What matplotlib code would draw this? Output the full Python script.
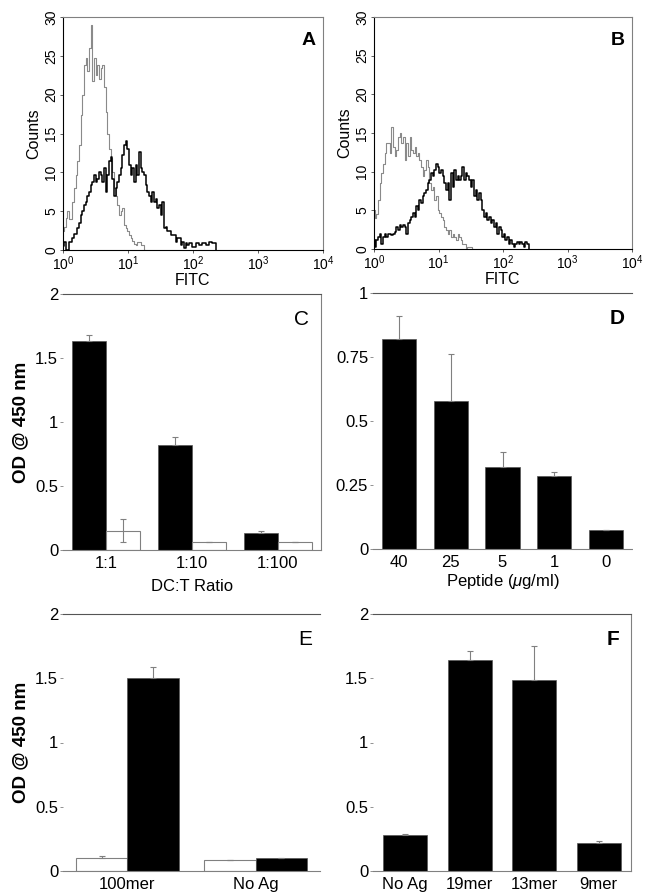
import matplotlib
matplotlib.use("Agg")
import matplotlib.pyplot as plt
import numpy as np

plt.rcParams["font.family"] = ["Liberation Sans", "DejaVu Sans"]
plt.rcParams["mathtext.fontset"] = "custom"
plt.rcParams["mathtext.rm"] = "Liberation Sans"
plt.rcParams["mathtext.it"] = "Liberation Sans:italic"

# FACS histograms: counts per channel, channel step = 1/39 decade from 10^0
LOG_STEP = 1 / 39

hist_a_control = [2.4, 3, 4.1, 5, 4, 4, 6.2, 8, 9.7, 11.5, 13.5, 17.4, 20, 23.8, 24.7,
                  23, 26, 29, 21.7, 24.7, 22.5, 23.8, 22, 23.4, 23.8, 21, 17.8, 15,
                  13, 11.8, 10, 8, 7, 5.8, 4.5, 5, 5.4, 3.2, 2.8, 2.4, 1.9, 1.5, 1.1,
                  0.8, 0.6, 1, 1, 0.6, 0.6, 0]
hist_a_stained = [0.5, 1, 0, 0, 1, 1, 1.5, 2, 2, 2.8, 3.5, 4.5, 5, 5.8, 6.2, 7, 7.5,
                  8.4, 8.8, 9.7, 8.8, 9.2, 10, 9.7, 8.8, 10.5, 7.5, 9.7, 11.4, 12,
                  9.2, 7, 8, 8.8, 9.7, 10.5, 12.2, 13.5, 14, 13, 11, 9.7, 10.5, 8.8,
                  11, 9.7, 12.6, 10.5, 10, 9.7, 8.4, 7.5, 7, 6.2, 7.5, 6.2, 6.6, 5.4,
                  5.8, 4.5, 6.2, 2.8, 3, 2.4, 2.4, 1.9, 1.9, 1.9, 1, 1.5, 1.5, 0.6,
                  1, 0.2, 0.9, 0.6, 0.9, 0.9, 0.4, 0.4, 0.9, 0.9, 0.6, 0.6, 0.9, 0.9,
                  0.6, 0.6, 1, 1, 0.9, 0.9, 0]
hist_b_control = [5, 4, 4.5, 6.3, 8.5, 9.8, 11, 12.4, 13.7, 13.7, 12.4, 15.8, 13.2,
                  12, 12.8, 14.5, 15, 13.7, 14.5, 11.5, 13.7, 12, 14.5, 12.8, 12.4,
                  13.2, 12, 12.4, 11.5, 10.6, 9.4, 10.2, 11.5, 10.6, 8.5, 7.6, 8,
                  6.3, 6.8, 5, 4.6, 4.2, 3.8, 2.9, 2.5, 2, 2.5, 1.6, 2, 1.6, 1.2, 2,
                  1.6, 1.2, 0.7, 0.7, 0.1, 0.3, 0.3, 0.3, 0]
hist_b_stained = [1.2, 0.3, 1.2, 1.6, 2, 0.7, 1.6, 2, 1.6, 2, 2, 1.8, 2, 2.2, 2.9,
                  2.5, 3.1, 2.9, 3.1, 2.9, 2, 3.3, 3.8, 4.2, 4.6, 4.2, 5.5, 5, 6.3,
                  5.9, 6.8, 7.2, 7.6, 8.5, 8.9, 9.8, 9.4, 10.2, 11, 10.6, 9.8, 10.2,
                  9.4, 8.5, 7.6, 8.5, 6.3, 9.8, 8, 10.2, 8.9, 9.4, 8.9, 9.4, 10.6,
                  8.9, 9.8, 9.4, 8.9, 8, 8.9, 6.8, 7.6, 6.3, 7.2, 6.3, 5, 4.2, 4.6,
                  3.8, 4.2, 3.3, 3.8, 2.9, 3.3, 2, 2.9, 2.5, 1.6, 2, 1.2, 1.6, 0.7,
                  1.2, 0.7, 0.3, 0.7, 0.9, 0.7, 0.9, 0.7, 0.3, 0.9, 0.7, 0]

# Panel C: DC:T ratio
ratio_labels = ["1:1", "1:10", "1:100"]
ratio_black = [1.63, 0.82, 0.13]
ratio_black_err = [0.05, 0.06, 0.02]
ratio_white = [0.15, 0.06, 0.06]
ratio_white_err = [0.09, 0.0, 0.0]

# Panel D: peptide dose
peptide_labels = ["40", "25", "5", "1", "0"]
peptide_vals = [0.82, 0.58, 0.32, 0.285, 0.075]
peptide_err = [0.09, 0.18, 0.06, 0.015, 0.0]

# Panel E: 100mer vs no antigen
antigen_labels = ["100mer", "No Ag"]
antigen_white = [0.10, 0.085]
antigen_white_err = [0.015, 0.0]
antigen_black = [1.50, 0.10]
antigen_black_err = [0.09, 0.0]

# Panel F: peptide length
length_labels = ["No Ag", "19mer", "13mer", "9mer"]
length_vals = [0.28, 1.64, 1.49, 0.22]
length_err = [0.01, 0.07, 0.26, 0.01]

W, H = 645, 893
GRAY = "#808080"


def axes_px(fig, left, top, right, bottom):
    return fig.add_axes([left / W, 1 - bottom / H, (right - left) / W, (bottom - top) / H])


def plot_hist(ax, control, stained, letter):
    for counts, color, lw in [(control, "#8a8a8a", 0.8), (stained, "black", 1.1)]:
        x = 10 ** (np.arange(len(counts)) * LOG_STEP)
        ax.step(x, counts, where="mid", color=color, lw=lw)
    ax.set_xscale("log")
    ax.set_xlim(1, 1e4)
    ax.set_ylim(0, 30)
    ax.set_xticks([1, 10, 100, 1000, 10000])
    ax.set_xticklabels([f"$10^{{{i}}}$" for i in range(5)], fontsize=10)
    ax.xaxis.set_minor_locator(matplotlib.ticker.NullLocator())
    ax.set_yticks(range(0, 31, 5))
    ax.set_yticklabels([str(v) for v in range(0, 31, 5)], rotation=90, va="center", fontsize=10)
    ax.tick_params(length=2, width=0.6, pad=1.5, color="#444")
    ax.set_xlabel("FITC", fontsize=11.5, labelpad=0)
    ax.set_ylabel("Counts", fontsize=11.5, labelpad=2)
    for s in ["top", "right"]:
        ax.spines[s].set_color(GRAY)
    for s in ax.spines.values():
        s.set_linewidth(0.8)
    ax.text(0.97, 0.9, letter, transform=ax.transAxes, ha="right", va="center",
            fontsize=14, fontweight="bold")


def style_bar_axes(ax, ymax, yticks, ylabels, letter, bold_letter, right_spine):
    ax.set_ylim(0, ymax)
    ax.set_yticks(yticks)
    ax.set_yticklabels(ylabels, fontsize=12)
    ax.spines["left"].set_visible(False)
    ax.spines["right"].set_visible(right_spine)
    ax.spines["right"].set_color(GRAY)
    ax.spines["top"].set_color("#555")
    ax.spines["bottom"].set_color(GRAY)
    ax.spines["bottom"].set_linestyle((0, (5, 1)))
    for s in ax.spines.values():
        s.set_linewidth(0.8)
    ax.tick_params(axis="y", length=2.5, width=0.6, color=GRAY, pad=1)
    ax.tick_params(axis="x", length=0, pad=4, labelsize=12)
    ax.text(0.955 if right_spine else 0.97, 0.9, letter, transform=ax.transAxes,
            ha="right", va="center", fontsize=15,
            fontweight="bold" if bold_letter else "normal")


fig = plt.figure(figsize=(W / 100, H / 100), dpi=100)

ax_a = axes_px(fig, 63, 17, 323, 250)
plot_hist(ax_a, hist_a_control, hist_a_stained, "A")
ax_b = axes_px(fig, 374, 17, 632, 249)
plot_hist(ax_b, hist_b_control, hist_b_stained, "B")

err_kw = dict(ecolor=GRAY, elinewidth=0.8, capsize=2, capthick=0.8)

# C
ax_c = axes_px(fig, 63, 294, 321, 550)
xc = np.arange(len(ratio_labels))
ax_c.bar(xc - 0.2, ratio_black, 0.4, color="black", edgecolor="#555", lw=0.5,
         yerr=[np.zeros(3), ratio_black_err], error_kw=err_kw)
ax_c.bar(xc + 0.2, ratio_white, 0.4, color="white", edgecolor=GRAY, lw=0.8,
         yerr=ratio_white_err, error_kw=err_kw)
ax_c.set_xlim(-0.5, 2.5)
ax_c.set_xticks(xc)
ax_c.set_xticklabels(ratio_labels)
style_bar_axes(ax_c, 2, [0, 0.5, 1, 1.5, 2], ["0", "0.5", "1", "1.5", "2"], "C", False, True)
ax_c.set_ylabel("OD @ 450 nm", fontsize=13.5, fontweight="bold", labelpad=4)
ax_c.set_xlabel("DC:T Ratio", fontsize=12, labelpad=6)

# D
ax_d = axes_px(fig, 373, 293, 632, 549)
xd = np.arange(len(peptide_labels))
ax_d.bar(xd, peptide_vals, 0.66, color="black", edgecolor="#555", lw=0.5,
         yerr=[np.zeros(5), peptide_err], error_kw=err_kw)
ax_d.set_xlim(-0.5, 4.5)
ax_d.set_xticks(xd)
ax_d.set_xticklabels(peptide_labels)
style_bar_axes(ax_d, 1, [0, 0.25, 0.5, 0.75, 1], ["0", "0.25", "0.5", "0.75", "1"], "D", True, False)
ax_d.set_xlabel("Peptide ($\\mu$g/ml)", fontsize=12, labelpad=2)

# E
ax_e = axes_px(fig, 63, 614, 320, 871)
xe = np.arange(len(antigen_labels))
ax_e.bar(xe - 0.2, antigen_white, 0.4, color="white", edgecolor=GRAY, lw=0.8,
         yerr=[np.zeros(2), antigen_white_err], error_kw=err_kw)
ax_e.bar(xe + 0.2, antigen_black, 0.4, color="black", edgecolor="#555", lw=0.5,
         yerr=[np.zeros(2), antigen_black_err], error_kw=err_kw)
ax_e.set_xlim(-0.5, 1.5)
ax_e.set_xticks(xe)
ax_e.set_xticklabels(antigen_labels)
style_bar_axes(ax_e, 2, [0, 0.5, 1, 1.5, 2], ["0", "0.5", "1", "1.5", "2"], "E", False, False)
ax_e.set_ylabel("OD @ 450 nm", fontsize=13.5, fontweight="bold", labelpad=4)

# F
ax_f = axes_px(fig, 373, 614, 631, 871)
xf = np.arange(len(length_labels))
ax_f.bar(xf, length_vals, 0.68, color="black", edgecolor="#555", lw=0.5,
         yerr=[np.zeros(4), length_err], error_kw=err_kw)
ax_f.set_xlim(-0.5, 3.5)
ax_f.set_xticks(xf)
ax_f.set_xticklabels(length_labels)
style_bar_axes(ax_f, 2, [0, 0.5, 1, 1.5, 2], ["0", "0.5", "1", "1.5", "2"], "F", True, True)

fig.savefig("out.png", dpi=100, facecolor="white")
